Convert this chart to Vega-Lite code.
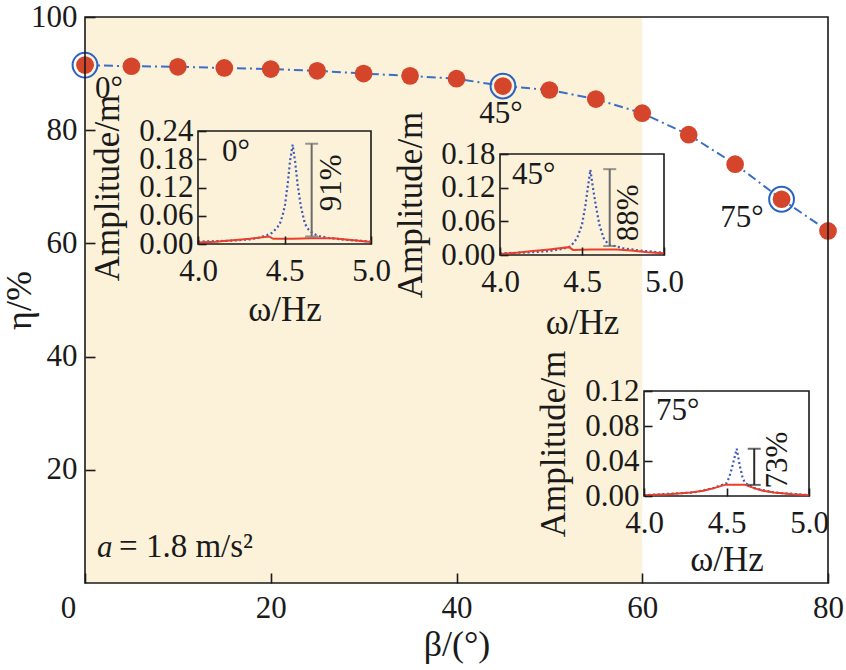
{
  "$schema": "https://vega.github.io/schema/vega-lite/v6.json",
  "width": 743,
  "height": 566,
  "autosize": {"type": "none"},
  "padding": {"left": 85, "top": 17, "right": 18, "bottom": 87},
  "background": "white",
  "datasets": {
    "eta": [
      {"beta": 0, "eta": 91.5}, {"beta": 5, "eta": 91.3}, {"beta": 10, "eta": 91.2},
      {"beta": 15, "eta": 91.0}, {"beta": 20, "eta": 90.8}, {"beta": 25, "eta": 90.5},
      {"beta": 30, "eta": 90.0}, {"beta": 35, "eta": 89.6}, {"beta": 40, "eta": 89.1},
      {"beta": 45, "eta": 87.8}, {"beta": 50, "eta": 87.1}, {"beta": 55, "eta": 85.5},
      {"beta": 60, "eta": 83.0}, {"beta": 65, "eta": 79.2}, {"beta": 70, "eta": 74.0},
      {"beta": 75, "eta": 67.8}, {"beta": 80, "eta": 62.2}
    ],
    "hl": [
      {"beta": 0, "eta": 91.5, "label": "0°"},
      {"beta": 45, "eta": 87.8, "label": "45°"},
      {"beta": 75, "eta": 67.8, "label": "75°"}
    ],
    "shade": [{"beta": 0, "beta2": 60, "eta": 0, "eta2": 100}],
    "frame": [{"beta": 0, "beta2": 80, "eta": 0, "eta2": 100}],
    "note": [{"beta": 1.3, "eta": 4.6, "sym": "a", "rest": "= 1.8 m/s²"}],
    "iframe": [
      {"inset": "0", "w": 4, "w2": 5, "amp": 0, "amp2": 0.24},
      {"inset": "45", "w": 4, "w2": 5, "amp": 0, "amp2": 0.18},
      {"inset": "75", "w": 4, "w2": 5, "amp": 0, "amp2": 0.12}
    ],
    "bars": [
      {"inset": "0", "w": 4.657, "amp": 0.016, "amp2": 0.213},
      {"inset": "45", "w": 4.669, "amp": 0.016, "amp2": 0.153},
      {"inset": "75", "w": 4.668, "amp": 0.0127, "amp2": 0.054}
    ],
    "caps": [
      {"inset": "0", "w": 4.657, "amp": 0.016},
      {"inset": "0", "w": 4.657, "amp": 0.213},
      {"inset": "45", "w": 4.669, "amp": 0.016},
      {"inset": "45", "w": 4.669, "amp": 0.153},
      {"inset": "75", "w": 4.668, "amp": 0.0127},
      {"inset": "75", "w": 4.668, "amp": 0.054}
    ],
    "ann": [
      {"inset": "0", "kind": "tag", "w": 4.139, "amp": 0.227, "text": "0°"},
      {"inset": "0", "kind": "pct", "w": 4.773, "amp": 0.13, "text": "91%"},
      {"inset": "45", "kind": "tag", "w": 4.073, "amp": 0.169, "text": "45°"},
      {"inset": "45", "kind": "pct", "w": 4.785, "amp": 0.075, "text": "88%"},
      {"inset": "75", "kind": "tag", "w": 4.073, "amp": 0.114, "text": "75°"},
      {"inset": "75", "kind": "pct", "w": 4.81, "amp": 0.041, "text": "73%"}
    ],
    "curves": [
      {"inset": "0", "s": "blue", "w": 4.0, "amp": 0.005},
      {"inset": "0", "s": "blue", "w": 4.1, "amp": 0.006},
      {"inset": "0", "s": "blue", "w": 4.2, "amp": 0.007},
      {"inset": "0", "s": "blue", "w": 4.3, "amp": 0.010},
      {"inset": "0", "s": "blue", "w": 4.35, "amp": 0.013},
      {"inset": "0", "s": "blue", "w": 4.4, "amp": 0.019},
      {"inset": "0", "s": "blue", "w": 4.43, "amp": 0.024},
      {"inset": "0", "s": "blue", "w": 4.46, "amp": 0.036},
      {"inset": "0", "s": "blue", "w": 4.475, "amp": 0.045},
      {"inset": "0", "s": "blue", "w": 4.49, "amp": 0.062},
      {"inset": "0", "s": "blue", "w": 4.503, "amp": 0.083},
      {"inset": "0", "s": "blue", "w": 4.518, "amp": 0.126},
      {"inset": "0", "s": "blue", "w": 4.532, "amp": 0.176},
      {"inset": "0", "s": "blue", "w": 4.547, "amp": 0.211},
      {"inset": "0", "s": "blue", "w": 4.561, "amp": 0.176},
      {"inset": "0", "s": "blue", "w": 4.576, "amp": 0.126},
      {"inset": "0", "s": "blue", "w": 4.595, "amp": 0.079},
      {"inset": "0", "s": "blue", "w": 4.618, "amp": 0.043},
      {"inset": "0", "s": "blue", "w": 4.64, "amp": 0.030},
      {"inset": "0", "s": "blue", "w": 4.666, "amp": 0.022},
      {"inset": "0", "s": "blue", "w": 4.7, "amp": 0.017},
      {"inset": "0", "s": "blue", "w": 4.753, "amp": 0.013},
      {"inset": "0", "s": "blue", "w": 4.85, "amp": 0.009},
      {"inset": "0", "s": "blue", "w": 4.93, "amp": 0.007},
      {"inset": "0", "s": "blue", "w": 5.0, "amp": 0.005},
      {"inset": "0", "s": "red", "w": 4.0, "amp": 0.003},
      {"inset": "0", "s": "red", "w": 4.1, "amp": 0.005},
      {"inset": "0", "s": "red", "w": 4.2, "amp": 0.008},
      {"inset": "0", "s": "red", "w": 4.3, "amp": 0.011},
      {"inset": "0", "s": "red", "w": 4.41, "amp": 0.016},
      {"inset": "0", "s": "red", "w": 4.435, "amp": 0.011},
      {"inset": "0", "s": "red", "w": 4.55, "amp": 0.011},
      {"inset": "0", "s": "red", "w": 4.65, "amp": 0.012},
      {"inset": "0", "s": "red", "w": 4.78, "amp": 0.012},
      {"inset": "0", "s": "red", "w": 4.9, "amp": 0.008},
      {"inset": "0", "s": "red", "w": 5.0, "amp": 0.004},
      {"inset": "45", "s": "blue", "w": 4.0, "amp": 0.003},
      {"inset": "45", "s": "blue", "w": 4.2, "amp": 0.005},
      {"inset": "45", "s": "blue", "w": 4.3, "amp": 0.007},
      {"inset": "45", "s": "blue", "w": 4.38, "amp": 0.011},
      {"inset": "45", "s": "blue", "w": 4.43, "amp": 0.015},
      {"inset": "45", "s": "blue", "w": 4.47, "amp": 0.030},
      {"inset": "45", "s": "blue", "w": 4.5, "amp": 0.054},
      {"inset": "45", "s": "blue", "w": 4.52, "amp": 0.087},
      {"inset": "45", "s": "blue", "w": 4.537, "amp": 0.123},
      {"inset": "45", "s": "blue", "w": 4.551, "amp": 0.152},
      {"inset": "45", "s": "blue", "w": 4.565, "amp": 0.123},
      {"inset": "45", "s": "blue", "w": 4.585, "amp": 0.087},
      {"inset": "45", "s": "blue", "w": 4.606, "amp": 0.054},
      {"inset": "45", "s": "blue", "w": 4.632, "amp": 0.030},
      {"inset": "45", "s": "blue", "w": 4.66, "amp": 0.019},
      {"inset": "45", "s": "blue", "w": 4.75, "amp": 0.012},
      {"inset": "45", "s": "blue", "w": 4.85, "amp": 0.008},
      {"inset": "45", "s": "blue", "w": 5.0, "amp": 0.004},
      {"inset": "45", "s": "red", "w": 4.0, "amp": 0.002},
      {"inset": "45", "s": "red", "w": 4.1, "amp": 0.004},
      {"inset": "45", "s": "red", "w": 4.2, "amp": 0.007},
      {"inset": "45", "s": "red", "w": 4.3, "amp": 0.010},
      {"inset": "45", "s": "red", "w": 4.42, "amp": 0.014},
      {"inset": "45", "s": "red", "w": 4.445, "amp": 0.009},
      {"inset": "45", "s": "red", "w": 4.55, "amp": 0.010},
      {"inset": "45", "s": "red", "w": 4.71, "amp": 0.010},
      {"inset": "45", "s": "red", "w": 4.8, "amp": 0.008},
      {"inset": "45", "s": "red", "w": 4.9, "amp": 0.005},
      {"inset": "45", "s": "red", "w": 5.0, "amp": 0.003},
      {"inset": "75", "s": "blue", "w": 4.0, "amp": 0.001},
      {"inset": "75", "s": "blue", "w": 4.3, "amp": 0.004},
      {"inset": "75", "s": "blue", "w": 4.42, "amp": 0.009},
      {"inset": "75", "s": "blue", "w": 4.5, "amp": 0.0146},
      {"inset": "75", "s": "blue", "w": 4.517, "amp": 0.0216},
      {"inset": "75", "s": "blue", "w": 4.537, "amp": 0.035},
      {"inset": "75", "s": "blue", "w": 4.562, "amp": 0.054},
      {"inset": "75", "s": "blue", "w": 4.58, "amp": 0.035},
      {"inset": "75", "s": "blue", "w": 4.597, "amp": 0.0216},
      {"inset": "75", "s": "blue", "w": 4.611, "amp": 0.015},
      {"inset": "75", "s": "blue", "w": 4.667, "amp": 0.009},
      {"inset": "75", "s": "blue", "w": 4.79, "amp": 0.004},
      {"inset": "75", "s": "blue", "w": 5.0, "amp": 0.001},
      {"inset": "75", "s": "red", "w": 4.0, "amp": 0.001},
      {"inset": "75", "s": "red", "w": 4.15, "amp": 0.002},
      {"inset": "75", "s": "red", "w": 4.283, "amp": 0.004},
      {"inset": "75", "s": "red", "w": 4.36, "amp": 0.006},
      {"inset": "75", "s": "red", "w": 4.424, "amp": 0.009},
      {"inset": "75", "s": "red", "w": 4.495, "amp": 0.013},
      {"inset": "75", "s": "red", "w": 4.61, "amp": 0.013},
      {"inset": "75", "s": "red", "w": 4.667, "amp": 0.009},
      {"inset": "75", "s": "red", "w": 4.72, "amp": 0.006},
      {"inset": "75", "s": "red", "w": 4.788, "amp": 0.004},
      {"inset": "75", "s": "red", "w": 4.9, "amp": 0.002},
      {"inset": "75", "s": "red", "w": 5.0, "amp": 0.001}
    ]
  },
  "layer": [
    {
      "encoding": {
        "x": {
          "field": "beta",
          "type": "quantitative",
          "scale": {"domain": [0, 80], "nice": false, "zero": false},
          "axis": {
            "orient": "bottom",
            "zindex": 1,
            "values": [0, 20, 40, 60, 80],
            "tickSize": -10,
            "labelPadding": 20,
            "labelOffset": {"condition": {"test": "datum.value === 0", "value": -17}, "value": 0},
            "title": "β/(°)",
            "titleFontSize": 36,
            "titleY": 44
          }
        },
        "y": {
          "field": "eta",
          "type": "quantitative",
          "scale": {"domain": [0, 100], "nice": false, "zero": false},
          "axis": {
            "orient": "left",
            "zindex": 1,
            "values": [20, 40, 60, 80, 100],
            "tickSize": -10,
            "labelPadding": 18,
            "title": "η/%",
            "titleFontSize": 36,
            "titleX": -47
          }
        }
      },
      "layer": [
        {
          "data": {"name": "shade"},
          "mark": {"type": "rect", "color": "#fcf2da"},
          "encoding": {"x2": {"field": "beta2"}, "y2": {"field": "eta2"}}
        },
        {
          "data": {"name": "eta"},
          "mark": {"type": "line", "color": "#3a6fc7", "strokeWidth": 2, "strokeDash": [9, 4, 2, 4]},
          "encoding": {}
        },
        {
          "data": {"name": "eta"},
          "mark": {"type": "circle", "color": "#d5452b", "size": 314, "opacity": 1},
          "encoding": {}
        },
        {
          "data": {"name": "hl"},
          "mark": {"type": "point", "filled": false, "color": "#2a63c0", "size": 615, "strokeWidth": 2, "opacity": 1},
          "encoding": {}
        },
        {
          "data": {"name": "hl"},
          "transform": [{"filter": "datum.label === '0°'"}],
          "mark": {"type": "text", "align": "left", "baseline": "top", "dx": 10, "dy": 9},
          "encoding": {"text": {"field": "label"}}
        },
        {
          "data": {"name": "hl"},
          "transform": [{"filter": "datum.label === '45°'"}],
          "mark": {"type": "text", "align": "center", "baseline": "top", "dx": -2, "dy": 13},
          "encoding": {"text": {"field": "label"}}
        },
        {
          "data": {"name": "hl"},
          "transform": [{"filter": "datum.label === '75°'"}],
          "mark": {"type": "text", "align": "right", "baseline": "top", "dx": -18, "dy": 4},
          "encoding": {"text": {"field": "label"}}
        },
        {
          "data": {"name": "note"},
          "mark": {"type": "text", "align": "left", "baseline": "alphabetic", "fontStyle": "italic"},
          "encoding": {"text": {"field": "sym"}}
        },
        {
          "data": {"name": "note"},
          "mark": {"type": "text", "fontSize": 33, "align": "left", "baseline": "alphabetic", "dx": 22},
          "encoding": {"text": {"field": "rest"}}
        },
        {
          "data": {"name": "frame"},
          "mark": {"type": "rect", "filled": false, "stroke": "#1a1a1a", "strokeWidth": 1.6},
          "encoding": {"x2": {"field": "beta2"}, "y2": {"field": "eta2"}}
        }
      ]
    },
    {
      "encoding": {
        "x": {
          "field": "w",
          "type": "quantitative",
          "scale": {"domain": [4, 5], "range": [113, 286], "nice": false, "zero": false},
          "axis": {"orient": "bottom", "zindex": 2, "offset": -339, "values": [4, 4.5, 5], "format": ".1f", "tickSize": -8, "labelPadding": 20, "title": "ω/Hz", "titleFontSize": 35, "titleY": 48}
        },
        "y": {
          "field": "amp",
          "type": "quantitative",
          "scale": {"domain": [0, 0.24], "range": [227, 114], "nice": false, "zero": false},
          "axis": {"orient": "left", "zindex": 2, "offset": -113, "values": [0, 0.06, 0.12, 0.18, 0.24], "format": ".2f", "tickSize": -8, "labelPadding": 13, "title": "Amplitude/m", "titleFontSize": 35, "titleX": -73}
        }
      },
      "layer": [
        {
          "data": {"name": "iframe"},
          "transform": [{"filter": "datum.inset === '0'"}],
          "mark": {"type": "rect", "filled": false, "stroke": "#1a1a1a", "strokeWidth": 1.6},
          "encoding": {"x2": {"field": "w2"}, "y2": {"field": "amp2"}}
        },
        {
          "data": {"name": "curves"},
          "transform": [{"filter": "datum.inset === '0' && datum.s === 'blue'"}],
          "mark": {"type": "line", "color": "#3f58b8", "strokeWidth": 2.2, "strokeDash": [2, 2.6]},
          "encoding": {}
        },
        {
          "data": {"name": "curves"},
          "transform": [{"filter": "datum.inset === '0' && datum.s === 'red'"}],
          "mark": {"type": "line", "color": "#ea3f2a", "strokeWidth": 2},
          "encoding": {}
        },
        {
          "data": {"name": "bars"},
          "transform": [{"filter": "datum.inset === '0'"}],
          "mark": {"type": "rule", "color": "#6b6b6b", "strokeWidth": 2},
          "encoding": {"y2": {"field": "amp2"}}
        },
        {
          "data": {"name": "caps"},
          "transform": [{"filter": "datum.inset === '0'"}],
          "mark": {"type": "tick", "orient": "horizontal", "color": "#6b6b6b", "size": 13, "thickness": 2},
          "encoding": {}
        },
        {
          "data": {"name": "ann"},
          "transform": [{"filter": "datum.inset === '0' && datum.kind === 'tag'"}],
          "mark": {"type": "text", "align": "left", "baseline": "top"},
          "encoding": {"text": {"field": "text"}}
        },
        {
          "data": {"name": "ann"},
          "transform": [{"filter": "datum.inset === '0' && datum.kind === 'pct'"}],
          "mark": {"type": "text", "align": "center", "baseline": "middle", "angle": 270},
          "encoding": {"text": {"field": "text"}}
        }
      ]
    },
    {
      "encoding": {
        "x": {
          "field": "w",
          "type": "quantitative",
          "scale": {"domain": [4, 5], "range": [415, 579], "nice": false, "zero": false},
          "axis": {"orient": "bottom", "zindex": 2, "offset": -328, "values": [4, 4.5, 5], "format": ".1f", "tickSize": -8, "labelPadding": 20, "title": "ω/Hz", "titleFontSize": 35, "titleY": 50}
        },
        "y": {
          "field": "amp",
          "type": "quantitative",
          "scale": {"domain": [0, 0.18], "range": [238, 137], "nice": false, "zero": false},
          "axis": {"orient": "left", "zindex": 2, "offset": -415, "values": [0, 0.06, 0.12, 0.18], "format": ".2f", "tickSize": -8, "labelPadding": 13, "title": "Amplitude/m", "titleFontSize": 35, "titleX": -72}
        }
      },
      "layer": [
        {
          "data": {"name": "iframe"},
          "transform": [{"filter": "datum.inset === '45'"}],
          "mark": {"type": "rect", "filled": false, "stroke": "#1a1a1a", "strokeWidth": 1.6},
          "encoding": {"x2": {"field": "w2"}, "y2": {"field": "amp2"}}
        },
        {
          "data": {"name": "curves"},
          "transform": [{"filter": "datum.inset === '45' && datum.s === 'blue'"}],
          "mark": {"type": "line", "color": "#3f58b8", "strokeWidth": 2.2, "strokeDash": [2, 2.6]},
          "encoding": {}
        },
        {
          "data": {"name": "curves"},
          "transform": [{"filter": "datum.inset === '45' && datum.s === 'red'"}],
          "mark": {"type": "line", "color": "#ea3f2a", "strokeWidth": 2},
          "encoding": {}
        },
        {
          "data": {"name": "bars"},
          "transform": [{"filter": "datum.inset === '45'"}],
          "mark": {"type": "rule", "color": "#6b6b6b", "strokeWidth": 2},
          "encoding": {"y2": {"field": "amp2"}}
        },
        {
          "data": {"name": "caps"},
          "transform": [{"filter": "datum.inset === '45'"}],
          "mark": {"type": "tick", "orient": "horizontal", "color": "#6b6b6b", "size": 13, "thickness": 2},
          "encoding": {}
        },
        {
          "data": {"name": "ann"},
          "transform": [{"filter": "datum.inset === '45' && datum.kind === 'tag'"}],
          "mark": {"type": "text", "align": "left", "baseline": "top"},
          "encoding": {"text": {"field": "text"}}
        },
        {
          "data": {"name": "ann"},
          "transform": [{"filter": "datum.inset === '45' && datum.kind === 'pct'"}],
          "mark": {"type": "text", "align": "center", "baseline": "middle", "angle": 270},
          "encoding": {"text": {"field": "text"}}
        }
      ]
    },
    {
      "encoding": {
        "x": {
          "field": "w",
          "type": "quantitative",
          "scale": {"domain": [4, 5], "range": [559, 724], "nice": false, "zero": false},
          "axis": {"orient": "bottom", "zindex": 2, "offset": -87, "values": [4, 4.5, 5], "format": ".1f", "tickSize": -8, "labelPadding": 20, "title": "ω/Hz", "titleFontSize": 35, "titleY": 46}
        },
        "y": {
          "field": "amp",
          "type": "quantitative",
          "scale": {"domain": [0, 0.12], "range": [479, 374], "nice": false, "zero": false},
          "axis": {"orient": "left", "zindex": 2, "offset": -559, "values": [0, 0.04, 0.08, 0.12], "format": ".2f", "tickSize": -8, "labelPadding": 13, "title": "Amplitude/m", "titleFontSize": 35, "titleX": -73}
        }
      },
      "layer": [
        {
          "data": {"name": "iframe"},
          "transform": [{"filter": "datum.inset === '75'"}],
          "mark": {"type": "rect", "filled": false, "stroke": "#1a1a1a", "strokeWidth": 1.6},
          "encoding": {"x2": {"field": "w2"}, "y2": {"field": "amp2"}}
        },
        {
          "data": {"name": "curves"},
          "transform": [{"filter": "datum.inset === '75' && datum.s === 'blue'"}],
          "mark": {"type": "line", "color": "#3f58b8", "strokeWidth": 2.2, "strokeDash": [2, 2.6]},
          "encoding": {}
        },
        {
          "data": {"name": "curves"},
          "transform": [{"filter": "datum.inset === '75' && datum.s === 'red'"}],
          "mark": {"type": "line", "color": "#ea3f2a", "strokeWidth": 2},
          "encoding": {}
        },
        {
          "data": {"name": "bars"},
          "transform": [{"filter": "datum.inset === '75'"}],
          "mark": {"type": "rule", "color": "#2a2a2a", "strokeWidth": 2},
          "encoding": {"y2": {"field": "amp2"}}
        },
        {
          "data": {"name": "caps"},
          "transform": [{"filter": "datum.inset === '75'"}],
          "mark": {"type": "tick", "orient": "horizontal", "color": "#2a2a2a", "size": 13, "thickness": 2},
          "encoding": {}
        },
        {
          "data": {"name": "ann"},
          "transform": [{"filter": "datum.inset === '75' && datum.kind === 'tag'"}],
          "mark": {"type": "text", "align": "left", "baseline": "top"},
          "encoding": {"text": {"field": "text"}}
        },
        {
          "data": {"name": "ann"},
          "transform": [{"filter": "datum.inset === '75' && datum.kind === 'pct'"}],
          "mark": {"type": "text", "align": "center", "baseline": "middle", "angle": 270},
          "encoding": {"text": {"field": "text"}}
        }
      ]
    }
  ],
  "resolve": {"scale": {"x": "independent", "y": "independent"}},
  "config": {
    "view": {"stroke": null},
    "font": "Liberation Serif",
    "axis": {
      "grid": false,
      "domain": false,
      "labelFont": "Liberation Serif",
      "labelFontSize": 31,
      "labelColor": "#1a1a1a",
      "titleFont": "Liberation Serif",
      "titleFontSize": 33,
      "titleFontWeight": "normal",
      "titleColor": "#1a1a1a",
      "tickColor": "#1a1a1a",
      "tickWidth": 1.6,
      "labelFlush": false,
      "labelOverlap": false
    },
    "text": {"font": "Liberation Serif", "fontSize": 31, "color": "#1a1a1a"}
  }
}
